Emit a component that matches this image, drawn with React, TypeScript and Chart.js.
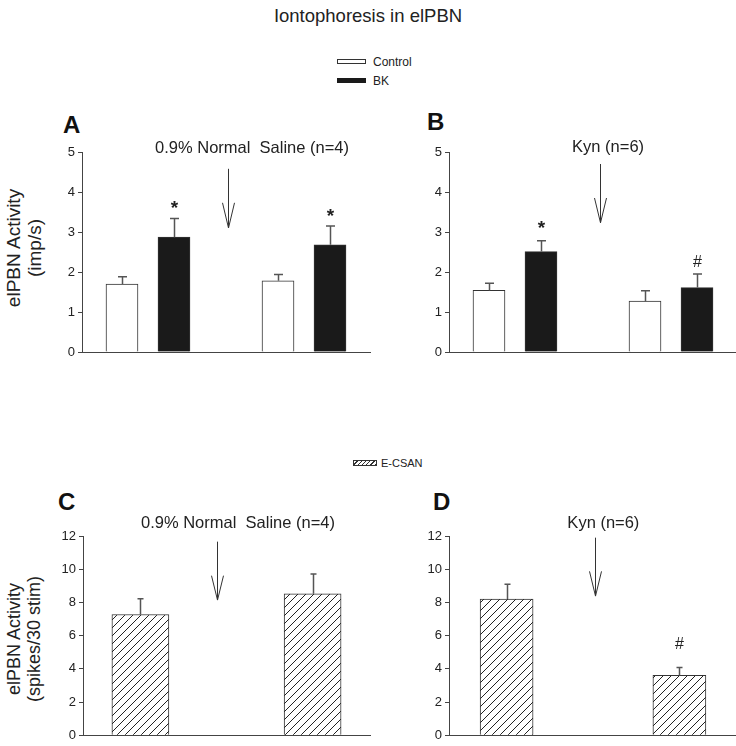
import React, { useEffect, useRef } from 'react';
import { Chart, registerables } from 'chart.js';
Chart.register(...registerables);

const FONT = '"Liberation Sans", Arial, Helvetica, sans-serif';

// ---------- data ----------
const conditions = ['Before', 'After'];

// Panel A – 0.9% Normal Saline (n=4)
const controlA = [1.70, 1.78];
const controlSemA = [0.18, 0.16];
const bkA = [2.87, 2.68];
const bkSemA = [0.47, 0.47];
const bkSigA = ['*', '*'];

// Panel B – Kyn (n=6)
const controlB = [1.54, 1.27];
const controlSemB = [0.18, 0.26];
const bkB = [2.51, 1.61];
const bkSemB = [0.27, 0.34];
const bkSigB = ['*', '#'];

// Panel C – E-CSAN, saline
const ecsanC = [7.27, 8.52];
const ecsanSemC = [0.95, 1.19];
const ecsanSigC = ['', ''];

// Panel D – E-CSAN, Kyn
const ecsanD = [8.20, 3.60];
const ecsanSemD = [0.89, 0.48];
const ecsanSigD = ['', '#'];

const ticksAB = [0, 1, 2, 3, 4, 5];
const ticksCD = [0, 2, 4, 6, 8, 10, 12];

// ---------- helpers ----------
function makeHatch(): CanvasPattern | string {
  const c = document.createElement('canvas');
  c.width = 8;
  c.height = 8;
  const g = c.getContext('2d');
  if (!g) return '#fff';
  g.fillStyle = '#fff';
  g.fillRect(0, 0, 8, 8);
  g.strokeStyle = '#222';
  g.lineWidth = 1;
  g.beginPath();
  g.moveTo(-1, 9);
  g.lineTo(9, -1);
  g.moveTo(-1, 1);
  g.lineTo(1, -1);
  g.moveTo(7, 9);
  g.lineTo(9, 7);
  g.stroke();
  return g.createPattern(c, 'repeat') || '#fff';
}

const decoPlugin = {
  id: 'deco',
  afterDatasetsDraw(chart: any, _args: any, opts: any) {
    const { ctx } = chart;
    const xs = chart.scales.x;
    const ys = chart.scales.y;
    ctx.save();
    chart.data.datasets.forEach((ds: any, di: number) => {
      const meta = chart.getDatasetMeta(di);
      meta.data.forEach((el: any, i: number) => {
        const v = ds.data[i].y;
        const top = ys.getPixelForValue(v + ds.sem[i]);
        const x = Math.round(el.x) + 0.5;
        ctx.strokeStyle = '#555';
        ctx.lineWidth = 1.5;
        ctx.beginPath();
        ctx.moveTo(x, el.y);
        ctx.lineTo(x, top);
        ctx.moveTo(x - opts.cap / 2, top);
        ctx.lineTo(x + opts.cap / 2, top);
        ctx.stroke();
        const s = ds.sig ? ds.sig[i] : '';
        if (s) {
          ctx.fillStyle = '#222';
          ctx.textAlign = 'center';
          ctx.textBaseline = 'alphabetic';
          ctx.font = (s === '*' ? 'bold 19px ' : '16px ') + FONT;
          ctx.fillText(s, x, top - opts.sigGap);
        }
      });
    });
    ctx.fillStyle = '#222';
    ctx.font = '16.5px ' + FONT;
    ctx.textAlign = 'center';
    ctx.textBaseline = 'middle';
    ctx.fillText(opts.caption, xs.getPixelForValue(opts.captionX), ys.getPixelForValue(opts.captionY));
    const ax = Math.round(xs.getPixelForValue(opts.arrowX)) + 0.5;
    const y1 = ys.getPixelForValue(opts.arrowY1);
    const y2 = ys.getPixelForValue(opts.arrowY2);
    const yh = ys.getPixelForValue(opts.arrowHead);
    ctx.strokeStyle = '#333';
    ctx.lineWidth = 1;
    ctx.beginPath();
    ctx.moveTo(ax, y1);
    ctx.lineTo(ax, y2);
    ctx.moveTo(ax - 6, yh);
    ctx.lineTo(ax, y2);
    ctx.lineTo(ax + 6, yh);
    ctx.stroke();
    ctx.restore();
  },
};

type PanelProps = {
  left: number;
  top: number;
  width: number;
  height: number;
  x0: number;
  x1: number;
  yTop: number;
  yBot: number;
  xMin: number;
  xMax: number;
  ticks: number[];
  datasets: any[];
  barThickness: number;
  deco: any;
};

function Panel(p: PanelProps) {
  const ref = useRef<HTMLCanvasElement | null>(null);
  useEffect(() => {
    if (!ref.current) return;
    const chart = new Chart(ref.current, {
      type: 'bar',
      data: { datasets: p.datasets },
      plugins: [decoPlugin],
      options: {
        animation: false,
        responsive: false,
        devicePixelRatio: 1,
        layout: {
          padding: {
            left: 0,
            right: p.left + p.width - p.x1,
            top: p.yTop - p.top,
            bottom: p.top + p.height - p.yBot,
          },
        },
        datasets: { bar: { barThickness: p.barThickness, grouped: false } },
        plugins: {
          legend: { display: false },
          tooltip: { enabled: false },
          deco: p.deco,
        } as any,
        scales: {
          x: {
            type: 'linear',
            min: p.xMin,
            max: p.xMax,
            offset: false,
            ticks: { display: false },
            grid: { display: false, offset: false },
            border: { display: true, color: '#444', width: 1 },
            afterFit: (s: any) => {
              s.height = 0;
            },
          },
          y: {
            min: p.ticks[0],
            max: p.ticks[p.ticks.length - 1],
            ticks: {
              stepSize: p.ticks[1] - p.ticks[0],
              color: '#222',
              font: { family: FONT, size: 13 },
              padding: 3,
            },
            grid: { display: true, drawOnChartArea: false, drawTicks: true, tickLength: 4, color: '#444' },
            border: { display: true, color: '#444', width: 1 },
            afterFit: (s: any) => {
              s.width = p.x0 - p.left;
            },
          },
        },
      } as any,
    });
    return () => chart.destroy();
  }, []);
  return (
    <canvas
      ref={ref}
      width={p.width}
      height={p.height}
      style={{ position: 'absolute', left: p.left, top: p.top, width: p.width, height: p.height }}
    />
  );
}

function pairedSets(ctrl: number[], ctrlSem: number[], bk: number[], bkSem: number[], bkSig: string[]) {
  return [
    {
      label: 'Control',
      data: conditions.map((_, g) => ({ x: g * 3, y: ctrl[g] })),
      sem: ctrlSem,
      sig: [],
      backgroundColor: '#ffffff',
      borderColor: '#333',
      borderWidth: 1,
    },
    {
      label: 'BK',
      data: conditions.map((_, g) => ({ x: g * 3 + 1, y: bk[g] })),
      sem: bkSem,
      sig: bkSig,
      backgroundColor: '#1a1a1a',
      borderColor: '#333',
      borderWidth: 1,
    },
  ];
}

function singleSet(vals: number[], sem: number[], sig: string[], hatch: any) {
  return [
    {
      label: 'E-CSAN',
      data: conditions.map((_, g) => ({ x: g * 3, y: vals[g] })),
      sem,
      sig,
      backgroundColor: hatch,
      borderColor: '#333',
      borderWidth: 1,
    },
  ];
}

const textBase: React.CSSProperties = { position: 'absolute', color: '#222', whiteSpace: 'nowrap', lineHeight: 1 };

export default function App() {
  const hatch = makeHatch();
  return (
    <div
      style={{
        position: 'fixed',
        left: 0,
        top: 0,
        width: 736,
        height: 746,
        overflow: 'hidden',
        background: '#fff',
        fontFamily: FONT,
      }}
    >
      <div style={{ ...textBase, left: 0, width: 736, top: 7, textAlign: 'center', fontSize: 18.5 }}>
        Iontophoresis in elPBN
      </div>

      {/* legend Control / BK */}
      <div style={{ position: 'absolute', left: 337, top: 59, width: 29, height: 5, boxSizing: 'border-box', border: '1px solid #333', background: '#fff' }} />
      <div style={{ ...textBase, left: 373, top: 56, fontSize: 12 }}>Control</div>
      <div style={{ position: 'absolute', left: 337, top: 78, width: 29, height: 5, background: '#1a1a1a' }} />
      <div style={{ ...textBase, left: 373, top: 75, fontSize: 12 }}>BK</div>

      {/* legend E-CSAN */}
      <div
        style={{
          position: 'absolute',
          left: 353,
          top: 460,
          width: 24,
          height: 6,
          boxSizing: 'border-box',
          border: '1px solid #333',
          background: 'repeating-linear-gradient(135deg, #fff 0px, #fff 2px, #333 2px, #333 3px)',
        }}
      />
      <div style={{ ...textBase, left: 381, top: 458, fontSize: 11 }}>E-CSAN</div>

      {/* panel letters */}
      <div style={{ ...textBase, left: 63, top: 113, fontSize: 24, fontWeight: 'bold', color: '#111' }}>A</div>
      <div style={{ ...textBase, left: 427, top: 110, fontSize: 24, fontWeight: 'bold', color: '#111' }}>B</div>
      <div style={{ ...textBase, left: 58, top: 490, fontSize: 24, fontWeight: 'bold', color: '#111' }}>C</div>
      <div style={{ ...textBase, left: 433, top: 490, fontSize: 24, fontWeight: 'bold', color: '#111' }}>D</div>

      {/* y-axis titles */}
      <div
        style={{
          ...textBase,
          left: 25,
          top: 248,
          fontSize: 19,
          lineHeight: 1.1,
          textAlign: 'center',
          transform: 'translate(-50%, -50%) rotate(-90deg)',
        }}
      >
        elPBN Activity
        <br />
        (imp/s)
      </div>
      <div
        style={{
          ...textBase,
          left: 25,
          top: 639,
          fontSize: 18,
          lineHeight: 1.1,
          textAlign: 'center',
          transform: 'translate(-50%, -50%) rotate(-90deg)',
        }}
      >
        elPBN Activity
        <br />
        (spikes/30 stim)
      </div>

      <Panel
        left={0}
        top={95}
        width={380}
        height={275}
        x0={82}
        x1={370}
        yTop={152}
        yBot={352}
        xMin={-0.769}
        xMax={4.769}
        ticks={ticksAB}
        barThickness={32}
        datasets={pairedSets(controlA, controlSemA, bkA, bkSemA, bkSigA)}
        deco={{
          cap: 9,
          sigGap: 4,
          caption: '0.9% Normal  Saline (n=4)',
          captionX: 2.5,
          captionY: 5.08,
          arrowX: 2.04,
          arrowY1: 4.58,
          arrowY2: 3.1,
          arrowHead: 3.73,
        }}
      />
      <Panel
        left={375}
        top={95}
        width={362}
        height={275}
        x0={449}
        x1={737}
        yTop={152}
        yBot={352}
        xMin={-0.769}
        xMax={4.769}
        ticks={ticksAB}
        barThickness={32}
        datasets={pairedSets(controlB, controlSemB, bkB, bkSemB, bkSigB)}
        deco={{
          cap: 9,
          sigGap: 7,
          caption: 'Kyn (n=6)',
          captionX: 2.29,
          captionY: 5.12,
          arrowX: 2.13,
          arrowY1: 4.7,
          arrowY2: 3.23,
          arrowHead: 3.85,
        }}
      />
      <Panel
        left={0}
        top={500}
        width={380}
        height={246}
        x0={83}
        x1={370}
        yTop={536}
        yBot={737}
        xMin={-1}
        xMax={4}
        ticks={ticksCD}
        barThickness={57}
        datasets={singleSet(ecsanC, ecsanSemC, ecsanSigC, hatch)}
        deco={{
          cap: 6,
          sigGap: 18,
          caption: '0.9% Normal  Saline (n=4)',
          captionX: 1.7,
          captionY: 12.78,
          arrowX: 1.33,
          arrowY1: 11.66,
          arrowY2: 8.14,
          arrowHead: 9.61,
        }}
      />
      <Panel
        left={375}
        top={500}
        width={362}
        height={246}
        x0={449}
        x1={737}
        yTop={536}
        yBot={737}
        xMin={-1}
        xMax={4}
        ticks={ticksCD}
        barThickness={53}
        datasets={singleSet(ecsanD, ecsanSemD, ecsanSigD, hatch)}
        deco={{
          cap: 6,
          sigGap: 18,
          caption: 'Kyn (n=6)',
          captionX: 1.68,
          captionY: 12.78,
          arrowX: 1.54,
          arrowY1: 11.9,
          arrowY2: 8.38,
          arrowHead: 9.87,
        }}
      />
    </div>
  );
}
